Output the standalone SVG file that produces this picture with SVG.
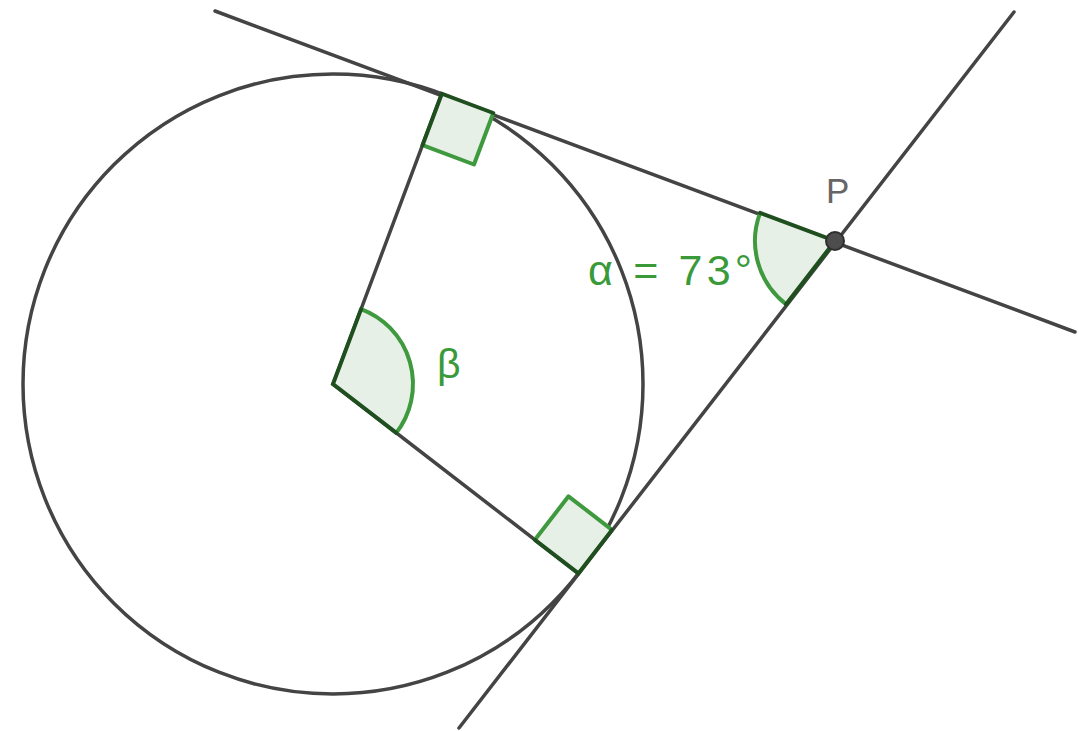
<svg xmlns="http://www.w3.org/2000/svg" width="1079" height="731" viewBox="0 0 1079 731">
<style>
.ln{stroke:#444444;stroke-width:3.5;fill:none;stroke-linecap:round}
.ang{fill:#e6f0e6;stroke:none}
.gr{stroke:#3f9a3f;stroke-width:4;fill:none;stroke-linejoin:round}
.dk{stroke:#1f4f1f;stroke-width:4;fill:none;stroke-linecap:round}
.lbl{font-family:"Liberation Sans",Arial,sans-serif;fill:#3a9a3a}
</style>
<rect width="1079" height="731" fill="#ffffff"/>
<g id="connectors">
<circle id="circle" class="ln" cx="333" cy="384" r="310"/>
<line class="ln" x1="215" y1="11" x2="1075" y2="332"/>
<line class="ln" x1="459" y1="728" x2="1014" y2="12"/>
<line class="ln" x1="333" y1="384" x2="441.8" y2="93.7"/>
<line class="ln" x1="333" y1="384" x2="578.4" y2="573.4"/>
</g>
<g id="rightangle1">
<polygon class="ang" points="441.8,93.7 493.3,113 474,164.5 422.5,145.2"/>
<polyline class="gr" points="493.3,113 474,164.5 422.5,145.2"/>
<polyline class="dk" points="422.5,145.2 441.8,93.7 493.3,113"/>
</g>
<g id="rightangle2">
<polygon class="ang" points="578.4,573.4 612,529.9 568.5,496.3 534.9,539.8"/>
<polyline class="gr" points="612,529.9 568.5,496.3 534.9,539.8"/>
<polyline class="dk" points="534.9,539.8 578.4,573.4 612,529.9"/>
</g>
<g id="beta">
<path class="ang" d="M333,384 L361.1,309.1 A80,80 0 0 1 396.3,432.9 Z"/>
<path class="gr" d="M361.1,309.1 A80,80 0 0 1 396.3,432.9"/>
<polyline class="dk" points="361.1,309.1 333,384 396.3,432.9"/>
<text class="lbl" x="437" y="378" font-size="41">β</text>
</g>
<g id="alpha">
<path class="ang" d="M835,241 L760.1,212.9 A80,80 0 0 0 786.1,304.3 Z"/>
<path class="gr" d="M760.1,212.9 A80,80 0 0 0 786.1,304.3"/>
<polyline class="dk" points="760.1,212.9 835,241 786.1,304.3"/>
<text class="lbl" x="588" y="285" font-size="43" textLength="164" lengthAdjust="spacing">α = 73°</text>
</g>
<g id="P">
<circle cx="835" cy="241" r="9" fill="#4d4d4d" stroke="#2e2e2e" stroke-width="2"/>
<text x="826" y="203" font-size="35" font-family="Liberation Sans, Arial, sans-serif" fill="#666666">P</text>
</g>
</svg>
